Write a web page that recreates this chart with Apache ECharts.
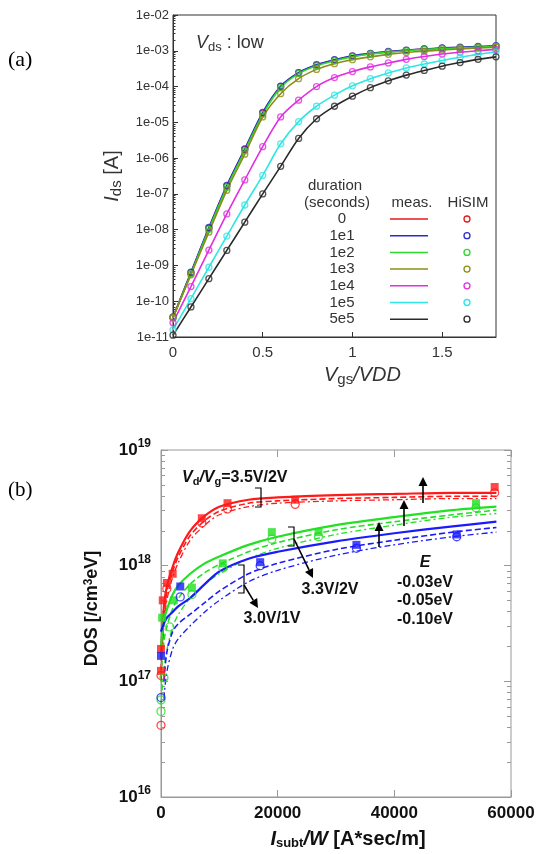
<!DOCTYPE html>
<html>
<head>
<meta charset="utf-8">
<script src="https://cdn.jsdelivr.net/npm/echarts@6/dist/echarts.min.js"></script>
<style>html,body{margin:0;padding:0;background:#fff}#chart{width:540px;height:854px}</style>
</head>
<body>
<div id="chart"></div>
<script>
// ---- (a) Ids vs Vgs/VDD, values read as log10(Ids) ----
var vgs = [0, 0.1, 0.2, 0.3, 0.4, 0.5, 0.6, 0.7, 0.8, 0.9, 1.0, 1.1, 1.2, 1.3, 1.4, 1.5, 1.6, 1.7, 1.8];
var durations = ['0', '1e1', '1e2', '1e3', '1e4', '1e5', '5e5'];
var logIds_0   = [-10.46, -9.21, -7.96, -6.78, -5.76, -4.74, -4.00, -3.62, -3.40, -3.26, -3.15, -3.08, -3.03, -2.99, -2.95, -2.93, -2.91, -2.89, -2.87];
var logIds_1e1 = [-10.44, -9.19, -7.94, -6.76, -5.74, -4.72, -3.99, -3.61, -3.39, -3.25, -3.14, -3.07, -3.02, -2.98, -2.95, -2.92, -2.90, -2.88, -2.86];
var logIds_1e2 = [-10.47, -9.23, -7.99, -6.82, -5.80, -4.78, -4.03, -3.64, -3.42, -3.28, -3.17, -3.09, -3.04, -3.00, -2.96, -2.94, -2.92, -2.90, -2.88];
var logIds_1e3 = [-10.45, -9.26, -8.07, -6.90, -5.89, -4.85, -4.20, -3.78, -3.52, -3.36, -3.25, -3.17, -3.10, -3.05, -3.01, -2.98, -2.95, -2.92, -2.90];
var logIds_1e4 = [-10.60, -9.59, -8.57, -7.56, -6.61, -5.68, -4.85, -4.38, -4.00, -3.75, -3.58, -3.45, -3.34, -3.24, -3.16, -3.09, -3.04, -3.00, -2.96];
var logIds_1e5 = [-10.80, -9.93, -9.05, -8.18, -7.31, -6.48, -5.60, -4.98, -4.55, -4.24, -3.98, -3.78, -3.62, -3.48, -3.37, -3.27, -3.18, -3.10, -3.03];
var logIds_5e5 = [-10.95, -10.16, -9.37, -8.58, -7.79, -7.00, -6.23, -5.45, -4.90, -4.55, -4.27, -4.03, -3.84, -3.68, -3.55, -3.43, -3.33, -3.24, -3.17];
var idsCurves = [logIds_0, logIds_1e1, logIds_1e2, logIds_1e3, logIds_1e4, logIds_1e5, logIds_5e5];
var aColors = ['#e41a1c', '#2b2bc8', '#2ed82e', '#8c8c14', '#e02ee0', '#2ee6e6', '#2a2a2a'];

// ---- (b) DOS vs Isubt/W, values read as log10(DOS) ----
var subtX = [0, 500, 1000, 2000, 3000, 5000, 7500, 10000, 15000, 20000, 30000, 40000, 50000, 57500];
var red_e03   = [17.20, 17.65, 17.82, 17.99, 18.12, 18.30, 18.43, 18.51, 18.57, 18.59, 18.61, 18.62, 18.63, 18.63];
var red_e05   = [17.10, 17.55, 17.77, 17.95, 18.08, 18.26, 18.39, 18.47, 18.54, 18.56, 18.58, 18.59, 18.60, 18.60];
var red_e10   = [17.00, 17.48, 17.70, 17.90, 18.03, 18.22, 18.35, 18.44, 18.51, 18.54, 18.56, 18.57, 18.58, 18.58];
var green_e03 = [17.30, 17.53, 17.62, 17.75, 17.83, 17.93, 18.02, 18.08, 18.18, 18.25, 18.35, 18.42, 18.48, 18.51];
var green_e05 = [17.05, 17.35, 17.47, 17.63, 17.72, 17.84, 17.94, 18.01, 18.12, 18.20, 18.31, 18.38, 18.44, 18.48];
var green_e10 = [16.80, 17.10, 17.27, 17.47, 17.58, 17.72, 17.84, 17.93, 18.06, 18.15, 18.27, 18.35, 18.42, 18.45];
var blue_e03  = [17.43, 17.50, 17.55, 17.60, 17.65, 17.72, 17.84, 17.95, 18.06, 18.12, 18.21, 18.28, 18.34, 18.38];
var blue_e05  = [null, 17.00, 17.25, 17.43, 17.50, 17.58, 17.68, 17.78, 17.93, 18.02, 18.14, 18.22, 18.29, 18.33];
var blue_e10  = [null, 16.85, 17.08, 17.28, 17.37, 17.48, 17.60, 17.70, 17.86, 17.96, 18.09, 18.18, 18.25, 18.29];
// measured points [Isubt/W, log10(DOS)]
var redSquares   = [[0, 17.28], [0, 17.09], [300, 17.70], [1000, 17.85], [2000, 17.93], [7000, 18.41], [11400, 18.54], [23000, 18.57], [57200, 18.68]];
var redCircles   = [[0, 16.62], [0, 17.05], [1000, 17.80], [7000, 18.37], [11400, 18.49], [23000, 18.53], [57200, 18.63]];
var greenSquares = [[200, 17.55], [2200, 17.70], [5300, 17.81], [10600, 18.02], [19000, 18.29], [27000, 18.29], [54000, 18.54]];
var greenCircles = [[0, 16.74], [0, 16.84], [500, 17.03], [1500, 17.47], [5300, 17.75], [10600, 17.98], [19000, 18.23], [27000, 18.25], [54000, 18.50]];
var blueSquares  = [[0, 17.22], [3300, 17.82], [17000, 18.03], [33500, 18.18], [50700, 18.27]];
var blueCircles  = [[0, 16.86], [3300, 17.73], [17000, 18.00], [33500, 18.15], [50700, 18.25]];
var bColors = {red: '#ff1a1a', green: '#22e022', blue: '#1a1aff'};

var chart = echarts.init(document.getElementById('chart'));
var SANS = 'Liberation Sans, Arial, sans-serif';

function pow10(v) { return v == null ? null : Math.pow(10, v); }
function minorVals(d0, d1) {
    var out = [];
    for (var d = d0; d < d1; d++) for (var m = 2; m <= 9; m++) out.push(m * Math.pow(10, d));
    return out;
}
function fmtE(v) {
    var e = Math.round(Math.log10(v)), s = Math.abs(e);
    return '1e' + (e < 0 ? '-' : '+') + (s < 10 ? '0' : '') + s;
}

var series = [];
// (a) meas. = lines, HiSIM = open circles
idsCurves.forEach(function (c, k) {
    var pts = vgs.map(function (v, i) { return [v, pow10(c[i])]; });
    series.push({
        type: 'line', xAxisIndex: 0, yAxisIndex: 0, data: pts, showSymbol: false,
        smooth: 0.3, lineStyle: {color: aColors[k], width: 1.6}, z: 2
    });
    series.push({
        type: 'scatter', xAxisIndex: 0, yAxisIndex: 0, data: pts, symbol: 'circle', symbolSize: 6,
        itemStyle: {color: 'rgba(0,0,0,0)', borderColor: aColors[k], borderWidth: 1.3}, z: 3
    });
});

// (b) model curves
function bLine(vals, color, type, width) {
    series.push({
        type: 'line', xAxisIndex: 1, yAxisIndex: 2, showSymbol: false, smooth: 0.3,
        data: subtX.map(function (x, i) { return [x, pow10(vals[i])]; }),
        lineStyle: {color: color, type: type, width: width}, z: 2
    });
}
function bPts(pts, color, shape) {
    series.push({
        type: 'scatter', xAxisIndex: 1, yAxisIndex: 2, symbol: shape === 'sq' ? 'rect' : 'circle',
        symbolSize: 8,
        data: pts.map(function (p) { return [p[0], pow10(p[1])]; }),
        itemStyle: shape === 'sq' ? {color: color} : {color: 'rgba(0,0,0,0)', borderColor: color, borderWidth: 1.3},
        z: 3
    });
}
[['red', red_e03, red_e05, red_e10], ['green', green_e03, green_e05, green_e10], ['blue', blue_e03, blue_e05, blue_e10]]
    .forEach(function (g) {
        bLine(g[1], bColors[g[0]], 'solid', 2.2);
        bLine(g[2], bColors[g[0]], [6, 3], 1.6);
        bLine(g[3], bColors[g[0]], [6, 3, 2, 3], 1.3);
    });
bPts(redSquares, bColors.red, 'sq');   bPts(redCircles, bColors.red, 'c');
bPts(greenSquares, bColors.green, 'sq'); bPts(greenCircles, bColors.green, 'c');
bPts(blueSquares, bColors.blue, 'sq');  bPts(blueCircles, bColors.blue, 'c');

// ---- annotations ----
var graphics = [];
function txt(x, y, text, opt) {
    opt = opt || {};
    graphics.push({type: 'text', x: x, y: y, z: 10, style: {
        text: text, fontFamily: opt.family || SANS, fontSize: opt.size || 14, fontWeight: opt.weight || 'normal',
        fontStyle: opt.style || 'normal', fill: opt.color || '#333', align: opt.align || 'center',
        verticalAlign: 'middle', rich: opt.rich
    }});
}
function seg(pts, color, w) {
    graphics.push({type: 'polyline', z: 10, shape: {points: pts}, style: {stroke: color || '#000', lineWidth: w || 1.2, fill: null}});
}
function arrow(x1, y1, x2, y2) {
    var a = Math.atan2(y2 - y1, x2 - x1), L = 9, W = 4.5;
    var bx = x2 - L * Math.cos(a), by = y2 - L * Math.sin(a);
    seg([[x1, y1], [bx, by]], '#000', 1.6);
    graphics.push({type: 'polygon', z: 10, shape: {points: [[x2, y2],
        [bx + W * Math.sin(a), by - W * Math.cos(a)], [bx - W * Math.sin(a), by + W * Math.cos(a)]]},
        style: {fill: '#000'}});
}

// panel labels
txt(8, 60, '(a)', {family: 'Liberation Serif, serif', size: 22, color: '#000', align: 'left'});
txt(8, 490, '(b)', {family: 'Liberation Serif, serif', size: 21, color: '#000', align: 'left'});

// (a) Vds: low
txt(196, 43, '{i|V}{s|ds}{n| : low}', {align: 'left', rich: {
    i: {fontSize: 18, fontStyle: 'italic', fontFamily: SANS, fill: '#333'},
    s: {fontSize: 13, fontFamily: SANS, fill: '#333', verticalAlign: 'bottom', padding: [8, 0, 0, 0]},
    n: {fontSize: 18, fontFamily: SANS, fill: '#333'}
}});
// (a) legend table
txt(335, 186, 'duration', {size: 15});
txt(337, 203, '(seconds)', {size: 15});
txt(412, 203, 'meas.', {size: 15});
txt(468, 203, 'HiSIM', {size: 15});
durations.forEach(function (d, i) {
    var y = 219 + i * 16.7;
    txt(342, y, d, {size: 15});
    seg([[390, y], [428, y]], aColors[i], 1.5);
    graphics.push({type: 'circle', z: 10, shape: {cx: 467, cy: y, r: 3}, style: {stroke: aColors[i], lineWidth: 1.3, fill: null}});
});

// (b) text and arrows
var B = {fontWeight: 'bold', fontFamily: SANS, fill: '#111'};
txt(182, 478, '{b|V}{s|d}{b|/V}{s|g}{n|=3.5V/2V}', {align: 'left', rich: {
    b: Object.assign({fontSize: 16, fontStyle: 'italic'}, B),
    s: Object.assign({fontSize: 11, verticalAlign: 'bottom', padding: [7, 0, 0, 0]}, B),
    n: Object.assign({fontSize: 16}, B)
}});
txt(330, 590, '3.3V/2V', {size: 16, weight: 'bold', color: '#111'});
txt(272, 619, '3.0V/1V', {size: 16, weight: 'bold', color: '#111'});
txt(425, 563, 'E', {size: 16, weight: 'bold', style: 'italic', color: '#111'});
txt(425, 583, '-0.03eV', {size: 16, weight: 'bold', color: '#111'});
txt(425, 601, '-0.05eV', {size: 16, weight: 'bold', color: '#111'});
txt(425, 620, '-0.10eV', {size: 16, weight: 'bold', color: '#111'});
seg([[255, 488], [261, 488], [261, 507], [255, 507]], '#000', 1.2);
seg([[288, 527], [294, 527], [294, 546], [288, 546]], '#000', 1.2);
seg([[238, 565], [244, 565], [244, 593], [238, 593]], '#000', 1.2);
arrow(294, 539, 313, 578);
arrow(244, 585, 258, 608);
arrow(379, 547, 379, 522);
arrow(404, 526, 404, 500);
arrow(423, 503, 423, 477);

var option = {
    backgroundColor: '#fff',
    animation: false,
    grid: [
        {left: 173, top: 15, width: 323, height: 322, show: true, borderColor: '#333', borderWidth: 1},
        {left: 161, top: 450, width: 350, height: 347, show: true, borderColor: '#999', borderWidth: 1}
    ],
    xAxis: [
        {gridIndex: 0, type: 'value', min: 0, max: 1.8, interval: 0.5,
            axisLine: {lineStyle: {color: '#333'}}, axisTick: {inside: true, length: 5, lineStyle: {color: '#333'}},
            axisLabel: {fontSize: 15, color: '#333', fontFamily: SANS, margin: 8, showMaxLabel: false},
            splitLine: {show: false},
            name: '{i|V}{s|gs}{i|/VDD}', nameLocation: 'middle', nameGap: 26,
            nameTextStyle: {padding: [0, 0, 0, 56], rich: {
                i: {fontSize: 20, fontStyle: 'italic', fontFamily: SANS, color: '#333'},
                s: {fontSize: 15, fontFamily: SANS, color: '#333', verticalAlign: 'bottom', padding: [9, 0, 0, 0]}
            }}},
        {gridIndex: 1, type: 'value', min: 0, max: 60000, interval: 20000,
            axisLine: {lineStyle: {color: '#999'}}, axisTick: {inside: true, length: 7, lineStyle: {color: '#999'}},
            axisLabel: {fontSize: 17, fontWeight: 'bold', color: '#111', fontFamily: SANS, margin: 8,
                formatter: function (v) { return String(v); }},
            splitLine: {show: false},
            name: '{bi|I}{bs|subt}{bi|/W}{b| [A*sec/m]}', nameLocation: 'middle', nameGap: 32,
            nameTextStyle: {padding: [0, 0, 0, 24], rich: {
                bi: {fontSize: 20, fontStyle: 'italic', fontWeight: 'bold', fontFamily: SANS, color: '#111'},
                bs: {fontSize: 13, fontWeight: 'bold', fontFamily: SANS, color: '#111', verticalAlign: 'bottom', padding: [8, 0, 0, 0]},
                b: {fontSize: 20, fontWeight: 'bold', fontFamily: SANS, color: '#111'}
            }}},
        {gridIndex: 1, type: 'value', position: 'top', min: 0, max: 60000, interval: 20000,
            axisLine: {show: false}, axisTick: {inside: true, length: 7, lineStyle: {color: '#999'}},
            axisLabel: {show: false}, splitLine: {show: false}}
    ],
    yAxis: [
        {gridIndex: 0, type: 'log', logBase: 10, min: 1e-11, max: 1e-2, splitNumber: 9,
            axisLine: {show: true, lineStyle: {color: '#333'}}, axisTick: {inside: true, length: 5, lineStyle: {color: '#333'}},
            axisLabel: {formatter: fmtE, interval: 0, fontSize: 13, color: '#333', fontFamily: SANS, margin: 4},
            splitLine: {show: false},
            name: '{i|I}{s|ds}{n| [A]}', nameLocation: 'middle', nameGap: 38,
            nameTextStyle: {rich: {
                i: {fontSize: 20, fontStyle: 'italic', fontFamily: SANS, color: '#333'},
                s: {fontSize: 15, fontFamily: SANS, color: '#333', verticalAlign: 'bottom', padding: [9, 0, 0, 0]},
                n: {fontSize: 20, fontFamily: SANS, color: '#333'}
            }}},
        {gridIndex: 0, type: 'log', logBase: 10, min: 1e-11, max: 1e-2, position: 'left',
            axisLine: {show: false}, axisLabel: {show: false}, splitLine: {show: false},
            axisTick: {inside: true, length: 2.5, customValues: minorVals(-11, -2), lineStyle: {color: '#333'}}},
        {gridIndex: 1, type: 'log', logBase: 10, min: 1e16, max: 1e19, splitNumber: 3,
            axisLine: {show: true, lineStyle: {color: '#999'}}, axisTick: {inside: true, length: 7, lineStyle: {color: '#999'}},
            axisLabel: {interval: 0, margin: 10, formatter: function (v) {
                return '{b|10}{s|' + Math.round(Math.log10(v)) + '}';
            }, rich: {
                b: {fontSize: 17, fontWeight: 'bold', fontFamily: SANS, color: '#111', lineHeight: 24},
                s: {fontSize: 12, fontWeight: 'bold', fontFamily: SANS, color: '#111', verticalAlign: 'top'}
            }},
            splitLine: {show: false},
            name: '{b|DOS [/cm}{s|3}{b|eV]}', nameLocation: 'middle', nameGap: 60,
            nameTextStyle: {padding: [0, 0, 0, 30], rich: {
                b: {fontSize: 18, fontWeight: 'bold', fontFamily: SANS, color: '#111'},
                s: {fontSize: 12, fontWeight: 'bold', fontFamily: SANS, color: '#111', verticalAlign: 'top'}
            }}},
        {gridIndex: 1, type: 'log', logBase: 10, min: 1e16, max: 1e19, position: 'left',
            axisLine: {show: false}, axisLabel: {show: false}, splitLine: {show: false},
            axisTick: {inside: true, length: 4, customValues: minorVals(16, 19), lineStyle: {color: '#999'}}},
        {gridIndex: 1, type: 'log', logBase: 10, min: 1e16, max: 1e19, splitNumber: 3, position: 'right',
            axisLine: {show: false}, axisLabel: {show: false}, splitLine: {show: false},
            axisTick: {inside: true, length: 7, lineStyle: {color: '#999'}}},
        {gridIndex: 1, type: 'log', logBase: 10, min: 1e16, max: 1e19, position: 'right',
            axisLine: {show: false}, axisLabel: {show: false}, splitLine: {show: false},
            axisTick: {inside: true, length: 4, customValues: minorVals(16, 19), lineStyle: {color: '#999'}}}
    ],
    series: series,
    graphic: graphics
};
chart.setOption(option);
</script>
</body>
</html>
